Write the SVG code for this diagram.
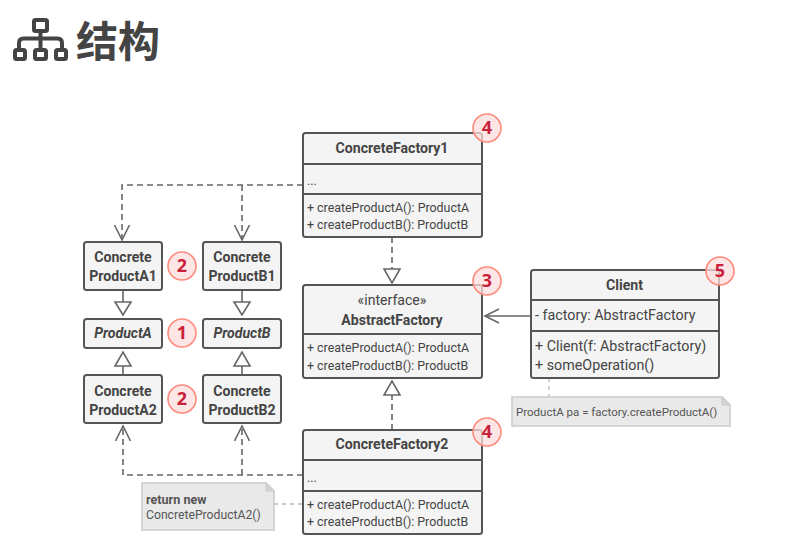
<svg xmlns="http://www.w3.org/2000/svg" width="805" height="550" viewBox="0 0 805 550">
<defs>
<style>
text{font-family:Roboto,"Noto Sans",sans-serif;fill:#444;font-size:12px}
.b{font-weight:700;font-size:14.100px;text-anchor:middle}
.i{font-weight:700;font-style:italic;font-size:14.100px;text-anchor:middle}
.m{font-size:12.400px}
.l{font-size:14.300px}
.box{fill:#f4f4f4;stroke:#555;stroke-width:2}
.div{fill:none;stroke:#555;stroke-width:2}
.line{fill:none;stroke:#666;stroke-width:1.6}
.dash{fill:none;stroke:#666;stroke-width:1.6;stroke-dasharray:6 4}
.tri{fill:#fff;stroke:#666;stroke-width:1.6}
.open{fill:none;stroke:#666;stroke-width:1.6}
.dot{fill:none;stroke:#bbb;stroke-width:1.3;stroke-dasharray:4 4}
.note{fill:#e9e9e9;stroke:#ccc;stroke-width:1.6}
.fold{fill:#d4d4d4;stroke:#ccc;stroke-width:1.2}
.nt{font-size:11.500px;fill:#555}
.nb{font-size:12.200px;fill:#555}
.bc{fill:#fdd;fill-opacity:.75;stroke:#ff8b7b;stroke-width:1.6}
.bt{font-family:"Noto Sans",sans-serif;font-weight:700;font-size:18px;fill:#c9213a;text-anchor:middle}
.ico{fill:none;stroke:#444;stroke-width:4}
</style>
</defs>
<g id="title">
<g class="ico" stroke-linejoin="round">
<rect x="34" y="20" width="13" height="11" rx="1.500"/>
<path d="M40.500 33V48M19 48V43Q19 38.500 23.500 38.500H57.500Q62 38.500 62 43V48"/>
<rect x="15" y="50" width="10" height="9" rx="1.500"/>
<rect x="35" y="50" width="11" height="9" rx="1.500"/>
<rect x="56" y="50" width="10" height="9" rx="1.500"/>
</g>
<text x="76" y="57" style="font-family:'Noto Sans CJK SC',sans-serif;font-weight:700;font-size:42px;fill:#444">结构</text>
</g>
<g id="connectors">
<path class="dash" d="M303 185H122V238M242 185V238"/>
<path class="open" d="M114.500 225L122 240L129.500 225M234.500 225L242 240L249.500 225"/>
<path class="line" d="M123 290V302M242 290V302"/>
<path class="tri" d="M115 302H131L123 315ZM234 302H250L242 315Z"/>
<path class="line" d="M123 375V366M242 375V366"/>
<path class="tri" d="M115 366H131L123 352ZM234 366H250L242 352Z"/>
<path class="dash" d="M392 237V269"/>
<path class="tri" d="M384 269H400L392 283Z"/>
<path class="dash" d="M392 430V395"/>
<path class="tri" d="M384 395H400L392 381Z"/>
<path class="line" d="M531 316H486"/>
<path class="open" d="M499 309L485 316L499 323"/>
<path class="dash" d="M303 475H123V428M242 475V428"/>
<path class="open" d="M115.500 441L123 426L130.500 441M234.500 441L242 426L249.500 441"/>
<path class="dot" d="M549 378V397M274 504H303"/>
</g>
<g id="ConcreteFactory1">
<rect class="box" x="303" y="133" width="179" height="104" rx="2.500"/>
<path class="div" d="M303 164H482M303 194H482"/>
<text class="b" x="392" y="153">ConcreteFactory1</text>
<text class="m" x="307" y="185">...</text>
<text class="m" x="307" y="212">+ createProductA(): ProductA</text>
<text class="m" x="307" y="229">+ createProductB(): ProductB</text>
</g>
<g id="ConcreteProductA1">
<rect class="box" x="84" y="242" width="78" height="48" rx="2.500"/>
<text class="b" x="123" y="262">Concrete</text>
<text class="b" x="123" y="281">ProductA1</text>
</g>
<g id="ConcreteProductB1">
<rect class="box" x="203" y="242" width="78" height="48" rx="2.500"/>
<text class="b" x="242" y="262">Concrete</text>
<text class="b" x="242" y="281">ProductB1</text>
</g>
<g id="ProductA">
<rect class="box" x="84" y="319" width="78" height="29" rx="2.500"/>
<text class="i" x="123" y="338">ProductA</text>
</g>
<g id="ProductB">
<rect class="box" x="203" y="319" width="78" height="29" rx="2.500"/>
<text class="i" x="242" y="338">ProductB</text>
</g>
<g id="ConcreteProductA2">
<rect class="box" x="84" y="375" width="78" height="48" rx="2.500"/>
<text class="b" x="123" y="396">Concrete</text>
<text class="b" x="123" y="415">ProductA2</text>
</g>
<g id="ConcreteProductB2">
<rect class="box" x="203" y="375" width="78" height="48" rx="2.500"/>
<text class="b" x="242" y="396">Concrete</text>
<text class="b" x="242" y="415">ProductB2</text>
</g>
<g id="AbstractFactory">
<rect class="box" x="303" y="285" width="179" height="93" rx="2.500"/>
<path class="div" d="M303 334H482"/>
<text x="392" y="305" style="font-size:14.100px;text-anchor:middle">«interface»</text>
<text class="b" x="392" y="325">AbstractFactory</text>
<text class="m" x="307" y="352">+ createProductA(): ProductA</text>
<text class="m" x="307" y="370">+ createProductB(): ProductB</text>
</g>
<g id="ConcreteFactory2">
<rect class="box" x="303" y="430" width="179" height="104" rx="2.500"/>
<path class="div" d="M303 460H482M303 491H482"/>
<text class="b" x="392" y="449">ConcreteFactory2</text>
<text class="m" x="307" y="482">...</text>
<text class="m" x="307" y="509">+ createProductA(): ProductA</text>
<text class="m" x="307" y="526">+ createProductB(): ProductB</text>
</g>
<g id="Client">
<rect class="box" x="531" y="270" width="188" height="108" rx="2.500"/>
<path class="div" d="M531 300H719M531 331H719"/>
<text class="b" x="624.500" y="290">Client</text>
<text class="l" x="535" y="320">- factory: AbstractFactory</text>
<text class="l" x="535" y="351">+ Client(f: AbstractFactory)</text>
<text class="l" x="535" y="370">+ someOperation()</text>
</g>
<g id="note-client">
<path class="note" d="M512 397H722L730 405V426H512Z"/>
<path class="fold" d="M722 397L730 405H722Z"/>
<text class="nt" x="516" y="416">ProductA pa = factory.createProductA()</text>
</g>
<g id="note-factory">
<path class="note" d="M142 483H266L274 491V530H142Z"/>
<path class="fold" d="M266 483L274 491H266Z"/>
<text class="nb" x="146" y="504" style="font-weight:700;font-size:12.600px">return new</text>
<text class="nb" x="146" y="519">ConcreteProductA2()</text>
</g>
<g id="badge-4a"><circle class="bc" cx="487" cy="128" r="14"/><text class="bt" x="487" y="134">4</text></g>
<g id="badge-3"><circle class="bc" cx="487" cy="281" r="14"/><text class="bt" x="487" y="287">3</text></g>
<g id="badge-4b"><circle class="bc" cx="487" cy="432" r="14"/><text class="bt" x="487" y="438">4</text></g>
<g id="badge-5"><circle class="bc" cx="720" cy="271" r="14"/><text class="bt" x="720" y="277">5</text></g>
<g id="badge-2a"><circle class="bc" cx="182" cy="266" r="14"/><text class="bt" x="182" y="272">2</text></g>
<g id="badge-1"><circle class="bc" cx="182" cy="333" r="14"/><text class="bt" x="182" y="339">1</text></g>
<g id="badge-2b"><circle class="bc" cx="182" cy="399" r="14"/><text class="bt" x="182" y="405">2</text></g>
</svg>
